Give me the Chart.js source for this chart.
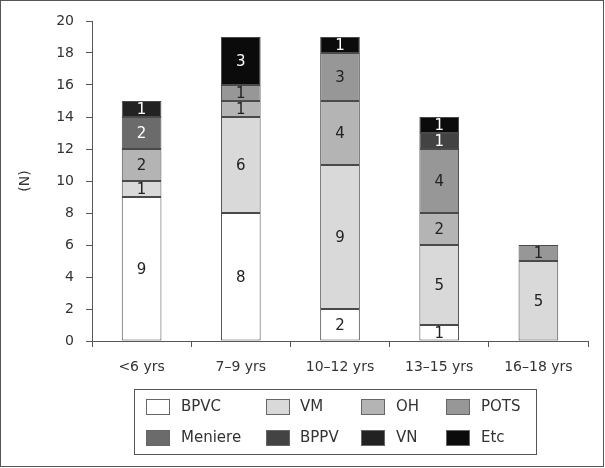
<!DOCTYPE html>
<html><head><meta charset="utf-8">
<script src="https://cdn.jsdelivr.net/npm/chart.js@4/dist/chart.umd.min.js"></script>
<style>html,body{margin:0;padding:0;background:#fff;}#wrap{width:605px;height:468px;position:relative;}</style>
</head><body><div id="wrap"><canvas id="c" width="605" height="468"></canvas></div>
<script>
const categories = ['<6 yrs', '7\u20139 yrs', '10\u201312 yrs', '13\u201315 yrs', '16\u201318 yrs'];
const BPVC    = [9, 8, 2, 1, null];
const VM      = [1, 6, 9, 5, 5];
const OH      = [2, 1, 4, 2, null];
const POTS    = [null, 1, 3, 4, 1];
const Meniere = [2, null, null, null, null];
const BPPV    = [null, null, null, 1, null];
const VN      = [1, null, null, null, null];
const Etc     = [null, 3, 1, 1, null];
const yTicks  = [0, 2, 4, 6, 8, 10, 12, 14, 16, 18, 20];

const seriesNames = ['BPVC','VM','OH','POTS','Meniere','BPPV','VN','Etc'];
const seriesData = [BPVC, VM, OH, POTS, Meniere, BPPV, VN, Etc];
const colors = ['#ffffff','#d9d9d9','#b4b4b4','#979797','#6b6b6b','#434343','#222222','#0b0b0b'];
const labelColors = ['#222','#222','#222','#222','#fff','#fff','#fff','#fff'];
const FONT = '"DejaVu Sans", sans-serif';

const datasets = seriesNames.map((n, i) => ({
  label: n, data: seriesData[i], backgroundColor: colors[i],
  borderColor: '#4a4a4a', borderWidth: 1, borderSkipped: false,
  barPercentage: 0.4, categoryPercentage: 1.0
}));

const labelPlugin = {
  id: 'labels',
  afterDatasetsDraw(chart) {
    const ctx = chart.ctx;
    ctx.save();
    ctx.font = '15px ' + FONT;
    ctx.textAlign = 'center'; ctx.textBaseline = 'middle';
    chart.data.datasets.forEach((ds, i) => {
      const meta = chart.getDatasetMeta(i);
      meta.data.forEach((bar, j) => {
        const v = ds.data[j];
        if (v == null || v === 0) return;
        ctx.fillStyle = labelColors[i];
        ctx.fillText(String(v), bar.x, (bar.y + bar.base) / 2 + 1);
      });
    });
    ctx.restore();
  }
};

const legendPlugin = {
  id: 'boxLegend',
  afterDraw(chart) {
    const ctx = chart.ctx;
    ctx.save();
    ctx.strokeStyle = '#555'; ctx.lineWidth = 1;
    ctx.strokeRect(134.5, 389.5, 402, 65);
    const sx = [146, 266, 361, 446], tx = [181, 300, 396, 481], ry = [407, 438];
    ctx.font = '15px ' + FONT; ctx.textBaseline = 'middle'; ctx.textAlign = 'left';
    chart.data.datasets.forEach((ds, i) => {
      const c = i % 4, r = Math.floor(i / 4);
      ctx.fillStyle = ds.backgroundColor;
      ctx.fillRect(sx[c], ry[r] - 8, 24, 16);
      ctx.strokeStyle = '#666';
      ctx.strokeRect(sx[c] + 0.5, ry[r] - 8 + 0.5, 23, 15);
      ctx.fillStyle = '#333';
      ctx.fillText(ds.label, tx[c], ry[r]);
    });
    ctx.strokeStyle = '#555';
    ctx.strokeRect(0.5, 0.5, 603, 466);
    ctx.restore();
  }
};

new Chart(document.getElementById('c'), {
  type: 'bar',
  data: { labels: categories, datasets },
  options: {
    responsive: false, animation: false,
    layout: { padding: { left: 0, right: 17, top: 21, bottom: 0 } },
    plugins: { legend: { display: false }, tooltip: { enabled: false } },
    scales: {
      x: {
        stacked: true,
        grid: { offset: true, drawOnChartArea: false, drawTicks: true, tickLength: 6, color: '#555' },
        border: { color: '#555', width: 1 },
        ticks: { color: '#333', font: { family: FONT, size: 14 }, padding: 12, maxRotation: 0 },
        afterFit(s) { s.height = 127; }
      },
      y: {
        stacked: true, min: 0, max: 20,
        afterBuildTicks(s) { s.ticks = yTicks.map(v => ({ value: v })); },
        grid: { drawOnChartArea: false, drawTicks: true, tickLength: 6, color: '#555' },
        border: { color: '#555', width: 1 },
        ticks: { color: '#333', font: { family: FONT, size: 14 }, padding: 12 },
        title: { display: true, text: '(N)', color: '#333', font: { family: FONT, size: 14 }, padding: { top: 17, bottom: 0 } },
        afterFit(s) { s.width = 92; }
      }
    }
  },
  plugins: [labelPlugin, legendPlugin]
});
</script></body></html>
